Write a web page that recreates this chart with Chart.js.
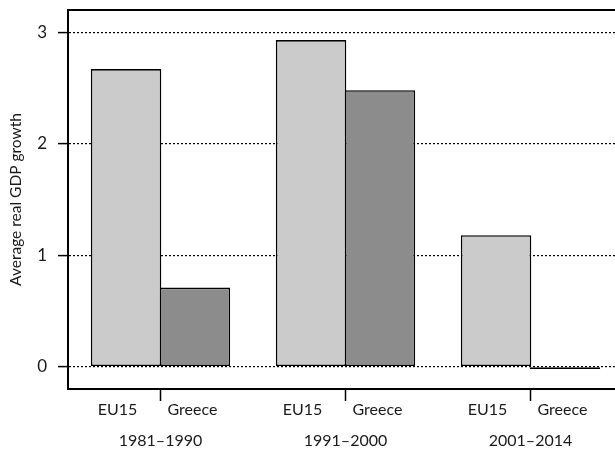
<!DOCTYPE html>
<html>
<head>
<meta charset="utf-8">
<script src="https://cdn.jsdelivr.net/npm/chart.js@4/dist/chart.umd.min.js"></script>
<style>
  html, body { margin: 0; padding: 0; overflow: hidden; background: #fff; }
  #wrap { width: 640px; height: 450px; }
</style>
</head>
<body>
<div id="wrap"><canvas id="gdpChart" width="640" height="450"></canvas></div>
<script>
const periods = ['1981–1990', '1991–2000', '2001–2014'];
const seriesNames = ['EU15', 'Greece'];
const eu15 = [2.67, 2.93, 1.18];
const greece = [0.71, 2.48, -0.02];
const yTicks = [0, 1, 2, 3];

const FONT = 'Lato, "Open Sans", sans-serif';

// frame top line + series names under each bar pair
const extras = {
  id: 'extras',
  afterDraw(chart) {
    const { ctx, chartArea, scales } = chart;
    ctx.save();
    ctx.strokeStyle = '#000';
    ctx.lineWidth = 2;
    ctx.beginPath();
    ctx.moveTo(chartArea.left - 1, chartArea.top);
    ctx.lineTo(chartArea.right, chartArea.top);
    ctx.stroke();

    ctx.fillStyle = '#1a1a1a';
    ctx.font = '16px ' + FONT;
    ctx.textAlign = 'center';
    ctx.textBaseline = 'middle';
    periods.forEach((p, i) => {
      const cx = scales.x.getPixelForValue(i);
      ctx.fillText(seriesNames[0], cx - 43, chartArea.bottom + 21);
      ctx.fillText(seriesNames[1], cx + 32, chartArea.bottom + 21);
    });
    ctx.restore();
  }
};

new Chart(document.getElementById('gdpChart'), {
  type: 'bar',
  data: {
    labels: periods,
    datasets: [
      {
        label: seriesNames[0],
        data: eu15,
        backgroundColor: '#cbcbcb',
        borderColor: '#000',
        borderWidth: 1.6,
        borderSkipped: false
      },
      {
        label: seriesNames[1],
        data: greece,
        backgroundColor: '#8c8c8c',
        borderColor: '#000',
        borderWidth: 1.6,
        borderSkipped: false
      }
    ]
  },
  options: {
    responsive: false,
    animation: false,
    devicePixelRatio: 1,
    layout: { padding: { top: 10, right: 17, left: 0, bottom: 0 } },
    // bars overlap by one border width so neighbours share a single edge line
    datasets: { bar: { categoryPercentage: 0.745, barPercentage: 1.023 } },
    plugins: {
      legend: { display: false },
      tooltip: { enabled: false }
    },
    scales: {
      x: {
        afterFit(scale) {
          scale.height = 61;
          scale.paddingLeft = 0;
          scale.paddingRight = 0;
        },
        grid: {
          offset: false,
          drawOnChartArea: false,
          tickLength: 12,
          tickColor: '#000',
          tickWidth: 1.5
        },
        border: { color: '#000', width: 2 },
        ticks: {
          color: '#1a1a1a',
          padding: 30,
          maxRotation: 0,
          font: { family: FONT, size: 16 }
        }
      },
      y: {
        min: -0.2,
        max: 3.2,
        afterFit(scale) {
          scale.width = 68;
          scale.paddingTop = 0;
          scale.paddingBottom = 0;
        },
        afterBuildTicks(scale) { scale.ticks = yTicks.map(v => ({ value: v })); },
        grid: {
          color: '#000',
          lineWidth: 1.2,
          tickLength: 10,
          tickColor: '#000',
          tickWidth: 1.5,
          tickBorderDash: []
        },
        border: { color: '#000', width: 2, dash: [2, 2] },
        ticks: {
          color: '#1a1a1a',
          padding: 11,
          font: { family: FONT, size: 17 }
        },
        title: {
          display: true,
          text: 'Average real GDP growth',
          color: '#1a1a1a',
          padding: { top: 7, bottom: 0 },
          font: { family: FONT, size: 15.5 }
        }
      }
    }
  },
  plugins: [extras]
});
</script>
</body>
</html>
